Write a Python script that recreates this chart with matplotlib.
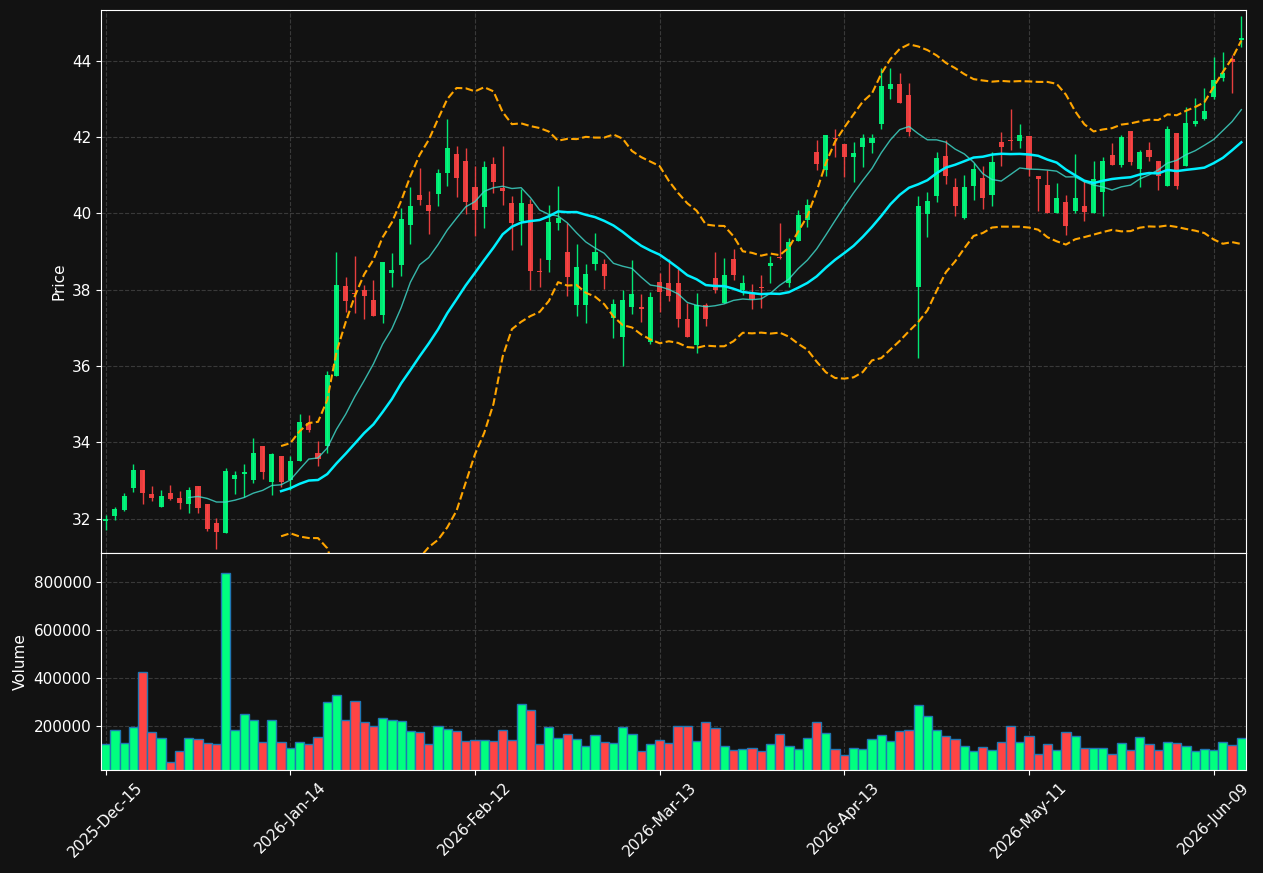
import matplotlib
matplotlib.use("Agg")
import matplotlib.pyplot as plt
import pandas as pd

# Dienu dati (OHLC + apjoms)
opens = [31.94, 32.06, 32.22, 32.81, 33.26, 32.63, 32.30, 32.66, 32.55, 32.37,
         32.86, 32.37, 31.87, 31.62, 33.03, 33.16, 33.00, 33.89, 32.95, 33.65,
         33.00, 33.50, 34.51, 33.72, 33.91, 35.73, 38.10, 37.92, 38.00, 37.72,
         37.33, 38.44, 38.65, 39.69, 40.49, 40.23, 40.50, 41.05, 41.56, 41.38,
         40.70, 40.16, 41.29, 40.67, 40.27, 39.81, 40.25, 38.48, 38.77, 39.74,
         39.00, 37.59, 37.61, 38.68, 38.68, 37.25, 36.75, 37.54, 37.55, 36.62,
         38.20, 38.17, 38.17, 37.23, 36.55, 37.59, 38.30, 37.66, 38.80, 38.00,
         37.91, 38.08, 38.61, 38.86, 38.18, 39.27, 39.83, 41.61, 41.14, 41.97,
         41.83, 41.47, 41.73, 41.84, 42.35, 43.25, 43.38, 43.11, 38.08, 39.99,
         40.45, 41.51, 40.70, 39.88, 40.71, 40.93, 40.47, 41.88, 41.91, 41.89,
         42.04, 40.99, 40.75, 40.00, 40.31, 40.05, 40.20, 40.00, 40.57, 41.54,
         41.27, 42.17, 41.17, 41.67, 41.38, 40.73, 42.11, 41.23, 42.35, 42.47,
         43.04, 43.56, 44.05, 44.55]
closes = [31.98, 32.24, 32.58, 33.26, 32.66, 32.53, 32.58, 32.51, 32.40, 32.76,
          32.27, 31.72, 31.64, 33.25, 33.15, 33.23, 33.73, 33.23, 33.68, 32.95,
          33.52, 34.52, 34.33, 33.55, 35.75, 38.13, 37.69, 37.89, 37.83, 37.32,
          38.73, 38.52, 39.86, 40.20, 40.34, 40.05, 41.07, 41.72, 40.92, 40.31,
          40.10, 41.21, 40.81, 40.58, 39.74, 40.27, 38.48, 38.46, 39.77, 39.88,
          38.32, 38.59, 38.42, 39.00, 38.35, 37.63, 37.72, 37.89, 37.48, 37.81,
          37.93, 37.83, 37.24, 36.76, 37.61, 37.24, 37.99, 38.39, 38.39, 38.17,
          37.75, 38.05, 38.71, 38.84, 39.24, 39.97, 40.23, 41.30, 42.06, 41.95,
          41.47, 41.59, 41.98, 41.98, 43.33, 43.40, 42.88, 42.13, 40.19, 40.33,
          41.46, 40.97, 40.18, 40.70, 41.17, 40.39, 41.35, 41.73, 41.89, 42.06,
          41.16, 40.90, 40.00, 40.41, 39.66, 40.41, 40.03, 40.91, 41.38, 41.26,
          41.99, 41.35, 41.62, 41.47, 40.97, 42.22, 40.73, 42.38, 42.43, 42.69,
          43.50, 43.69, 43.98, 44.60]
highs = [32.08, 32.30, 32.68, 33.43, 33.26, 32.86, 32.75, 32.88, 32.72, 32.83,
         32.86, 32.37, 32.01, 33.33, 33.25, 33.44, 34.11, 33.89, 33.72, 33.65,
         33.63, 34.75, 34.72, 34.03, 35.86, 39.00, 38.33, 38.89, 38.13, 38.26,
         38.73, 38.96, 40.14, 40.69, 41.19, 40.59, 41.16, 42.47, 41.77, 41.72,
         41.23, 41.38, 41.49, 41.76, 40.45, 40.64, 40.38, 38.82, 40.21, 40.71,
         39.75, 39.20, 38.66, 39.48, 38.81, 37.76, 38.00, 38.79, 37.89, 37.94,
         38.44, 38.81, 38.55, 37.66, 37.92, 37.66, 38.99, 38.83, 39.07, 38.38,
         38.15, 38.38, 38.87, 39.75, 39.35, 40.10, 40.38, 41.93, 42.06, 42.22,
         41.83, 41.86, 42.08, 42.08, 43.81, 43.81, 43.68, 43.42, 40.45, 40.56,
         41.60, 41.91, 40.93, 41.00, 41.32, 41.25, 41.62, 42.12, 42.74, 42.34,
         42.04, 40.99, 41.14, 40.79, 40.48, 41.55, 40.88, 41.36, 41.49, 41.84,
         42.06, 42.17, 41.67, 41.87, 41.38, 42.30, 42.11, 42.79, 43.02, 43.29,
         44.10, 44.23, 44.16, 45.18]
lows = [31.70, 31.97, 32.19, 32.70, 32.38, 32.45, 32.29, 32.49, 32.24, 32.15,
        32.15, 31.67, 31.20, 31.62, 32.65, 32.56, 32.92, 33.04, 32.61, 32.82,
        32.76, 33.50, 34.27, 33.37, 33.72, 35.73, 37.41, 37.39, 37.23, 37.32,
        37.13, 38.07, 38.37, 39.20, 40.21, 39.46, 40.18, 40.71, 40.43, 39.98,
        39.41, 39.62, 40.53, 40.21, 39.05, 39.18, 38.00, 38.07, 38.46, 39.56,
        37.84, 37.30, 37.13, 38.52, 38.03, 36.73, 35.99, 37.35, 37.14, 36.58,
        37.41, 37.70, 37.03, 36.76, 36.35, 37.06, 37.91, 37.66, 38.24, 37.87,
        37.49, 37.51, 38.17, 38.80, 38.07, 39.27, 39.64, 41.14, 40.98, 41.48,
        40.95, 40.82, 41.21, 41.58, 42.21, 42.99, 42.88, 42.03, 36.22, 39.38,
        40.31, 40.77, 39.94, 39.86, 40.35, 40.11, 40.18, 41.25, 41.67, 41.72,
        40.97, 40.05, 40.00, 40.00, 39.43, 40.00, 39.79, 40.00, 39.92, 41.26,
        41.21, 41.26, 40.68, 41.38, 40.62, 40.73, 40.65, 41.23, 42.28, 42.45,
        43.00, 43.48, 43.15, 44.36]
volumes = [125000, 183000, 129000, 196000, 425000, 175000, 150000, 50000, 97000, 150000,
           146000, 129000, 125000, 837000, 183000, 250000, 225000, 133000, 225000, 133000,
           108000, 133000, 125000, 154000, 300000, 329000, 225000, 304000, 217000, 200000,
           233000, 225000, 221000, 179000, 175000, 125000, 200000, 188000, 179000, 138000,
           142000, 142000, 138000, 183000, 142000, 292000, 267000, 125000, 196000, 150000,
           167000, 146000, 117000, 163000, 133000, 129000, 196000, 167000, 96000, 125000,
           142000, 129000, 200000, 200000, 138000, 217000, 192000, 117000, 100000, 104000,
           108000, 96000, 125000, 167000, 117000, 104000, 150000, 217000, 171000, 104000,
           79000, 108000, 104000, 146000, 163000, 138000, 179000, 183000, 287000, 242000,
           183000, 158000, 146000, 117000, 96000, 112000, 100000, 133000, 200000, 133000,
           158000, 83000, 125000, 100000, 175000, 158000, 108000, 108000, 108000, 83000,
           129000, 100000, 154000, 125000, 100000, 133000, 129000, 117000, 96000, 104000,
           100000, 133000, 121000, 150000]

tick_pos = [0, 20, 40, 60, 80, 100, 120]
tick_labels = ["2025-Dec-15", "2026-Jan-14", "2026-Feb-12", "2026-Mar-13",
               "2026-Apr-13", "2026-May-11", "2026-Jun-09"]

df = pd.DataFrame({"open": opens, "high": highs, "low": lows,
                   "close": closes, "volume": volumes})
x = list(range(len(df)))

# Slīdošie vidējie un Bollinger joslas
sma10 = df["close"].rolling(10).mean()
sma20 = df["close"].rolling(20).mean()
std20 = df["close"].rolling(20).std()
upper = sma20 + 2 * std20
lower = sma20 - 2 * std20

bg = "#121212"
up_col = "#00ff7f"
down_col = "#ff4444"
colors = [up_col if c >= o else down_col for o, c in zip(opens, closes)]

fig, (ax1, ax2) = plt.subplots(2, 1, figsize=(12.63, 8.73), dpi=100, sharex=True,
                               gridspec_kw={"height_ratios": [2.5, 1], "hspace": 0})
fig.patch.set_facecolor(bg)
fig.subplots_adjust(left=0.080, right=0.9865, top=0.9885, bottom=0.118)

# Sveces
bottoms = [min(o, c) for o, c in zip(opens, closes)]
heights = [max(abs(c - o), 0.02) for o, c in zip(opens, closes)]
ax1.vlines(x, df["low"], df["high"], colors=colors, linewidth=1, alpha=0.9, zorder=2)
ax1.bar(x, heights, bottom=bottoms, width=0.55, color=colors, alpha=0.9, zorder=3)

# Indikatori
ax1.plot(x, sma10, color="#40e0d0", linewidth=1, alpha=0.8, zorder=4)
ax1.plot(x, sma20, color="#00f0ff", linewidth=1.8, zorder=4)
ax1.plot(x, upper, color="orange", linestyle="--", linewidth=1.5, zorder=4)
ax1.plot(x, lower, color="orange", linestyle="--", linewidth=1.5, zorder=4)
ax1.set_ylim(31.1, 45.33)
ax1.set_ylabel("Price", color="white")

# Apjoms
ax2.bar(x, df["volume"], width=1.0, color=colors, edgecolor="#1f77b4", linewidth=1)
ax2.set_ylim(18000, max(volumes) * 1.1)
ax2.set_ylabel("Volume", color="white")
ax2.set_xlim(-0.5, len(df) - 0.5)
ax2.set_xticks(tick_pos)
ax2.set_xticklabels(tick_labels, rotation=45)
ax2.ticklabel_format(axis="y", style="plain")

for ax in (ax1, ax2):
    ax.set_facecolor(bg)
    ax.grid(color="#444444", linestyle="--", linewidth=0.8, alpha=0.8)
    ax.set_axisbelow(True)
    ax.tick_params(colors="white", labelsize=11)
    for s in ax.spines.values():
        s.set_color("white")
ax1.yaxis.label.set_size(11)
ax2.yaxis.label.set_size(11)

plt.savefig("out.png", facecolor=bg)
